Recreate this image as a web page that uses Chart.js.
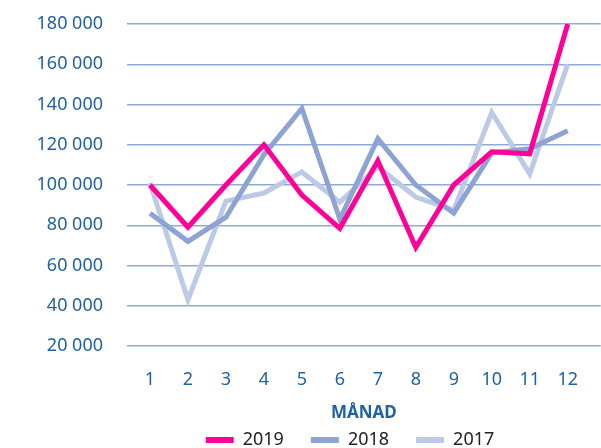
<!DOCTYPE html>
<html>
<head>
<meta charset="utf-8">
<script src="https://cdn.jsdelivr.net/npm/chart.js@4.4.1/dist/chart.umd.min.js"></script>
<style>
    html, body { margin: 0; padding: 0; background: #fff; }
    #wrap { width: 601px; height: 448px; }
</style>
</head>
<body>
<div id="wrap"><canvas id="salesChart"></canvas></div>
<script>
    // Data
    const months = [1, 2, 3, 4, 5, 6, 7, 8, 9, 10, 11, 12];
    const sales2019 = [100000, 79000, 100000, 120000, 95000, 78500, 112000, 69000, 100000, 116500, 115500, 180000];
    const sales2018 = [86000, 72000, 84000, 115000, 138000, 83000, 123000, 100000, 86000, 116000, 118000, 127000];
    const sales2017 = [101000, 43000, 92000, 96000, 106500, 91500, 109000, 94000, 87500, 136000, 105500, 160000];
    const yTicks = [20000, 40000, 60000, 80000, 100000, 120000, 140000, 160000, 180000];

    const blue = '#1f62a8';
    Chart.defaults.font.family = '"Noto Sans", sans-serif';

    const toPoints = arr => arr.map((v, i) => ({ x: months[i], y: v }));

    // legend sits a bit right of the canvas centre in the original
    const shiftLegend = {
        id: 'shiftLegend',
        afterLayout(chart) {
            chart.legend.left = 99;
        }
    };

    const ctx = document.getElementById('salesChart').getContext('2d');
    new Chart(ctx, {
        type: 'line',
        data: {
            datasets: [{
                label: '2019',
                data: toPoints(sales2019),
                borderColor: '#ff0099',
                backgroundColor: '#ff0099'
            }, {
                label: '2018',
                data: toPoints(sales2018),
                borderColor: '#8ca3d3',
                backgroundColor: '#8ca3d3'
            }, {
                label: '2017',
                data: toPoints(sales2017),
                borderColor: '#bcc9e7',
                backgroundColor: '#bcc9e7'
            }]
        },
        plugins: [shiftLegend],
        options: {
            responsive: true,
            maintainAspectRatio: false,
            animation: false,
            elements: {
                line: { borderWidth: 5, tension: 0, borderJoinStyle: 'miter', borderCapStyle: 'butt' },
                point: { radius: 0, hoverRadius: 0 }
            },
            layout: { padding: { left: 0, right: 0, top: 24, bottom: -11 } },
            plugins: {
                tooltip: { enabled: false },
                legend: {
                    position: 'bottom',
                    labels: {
                        color: '#222',
                        font: { size: 18 },
                        boxWidth: 28,
                        boxHeight: 6,
                        padding: 27,
                        generateLabels: function (chart) {
                            const items = Chart.defaults.plugins.legend.labels.generateLabels(chart);
                            items.forEach(it => { it.lineWidth = 0; });
                            return items;
                        }
                    }
                }
            },
            scales: {
                x: {
                    type: 'linear',
                    min: 0.395,
                    max: 12.87,
                    afterBuildTicks: function (scale) {
                        scale.ticks = months.map(m => ({ value: m }));
                    },
                    afterFit: function (scale) {
                        scale.height = 58;
                    },
                    grid: { display: false, drawTicks: false },
                    border: { display: false },
                    ticks: {
                        color: blue,
                        font: { size: 18 },
                        padding: 23,
                        autoSkip: false,
                        maxRotation: 0
                    },
                    title: {
                        display: true,
                        text: 'MÅNAD',
                        color: blue,
                        font: { size: 17, weight: 'bold' },
                        padding: { top: 0, bottom: -19 }
                    }
                },
                y: {
                    min: 20000,
                    max: 180000,
                    afterBuildTicks: function (scale) {
                        scale.ticks = yTicks.map(v => ({ value: v }));
                    },
                    afterFit: function (scale) {
                        scale.width = 127;
                        scale.paddingTop = 0;
                        scale.paddingBottom = 0;
                    },
                    grid: { color: '#8eaad9', lineWidth: 1.5, drawTicks: false },
                    border: { display: false },
                    ticks: {
                        color: blue,
                        font: { size: 18 },
                        padding: 24,
                        callback: function (value) {
                            return String(value).replace(/\B(?=(\d{3})+(?!\d))/g, ' ');
                        }
                    }
                }
            }
        }
    });
</script>
</body>
</html>
